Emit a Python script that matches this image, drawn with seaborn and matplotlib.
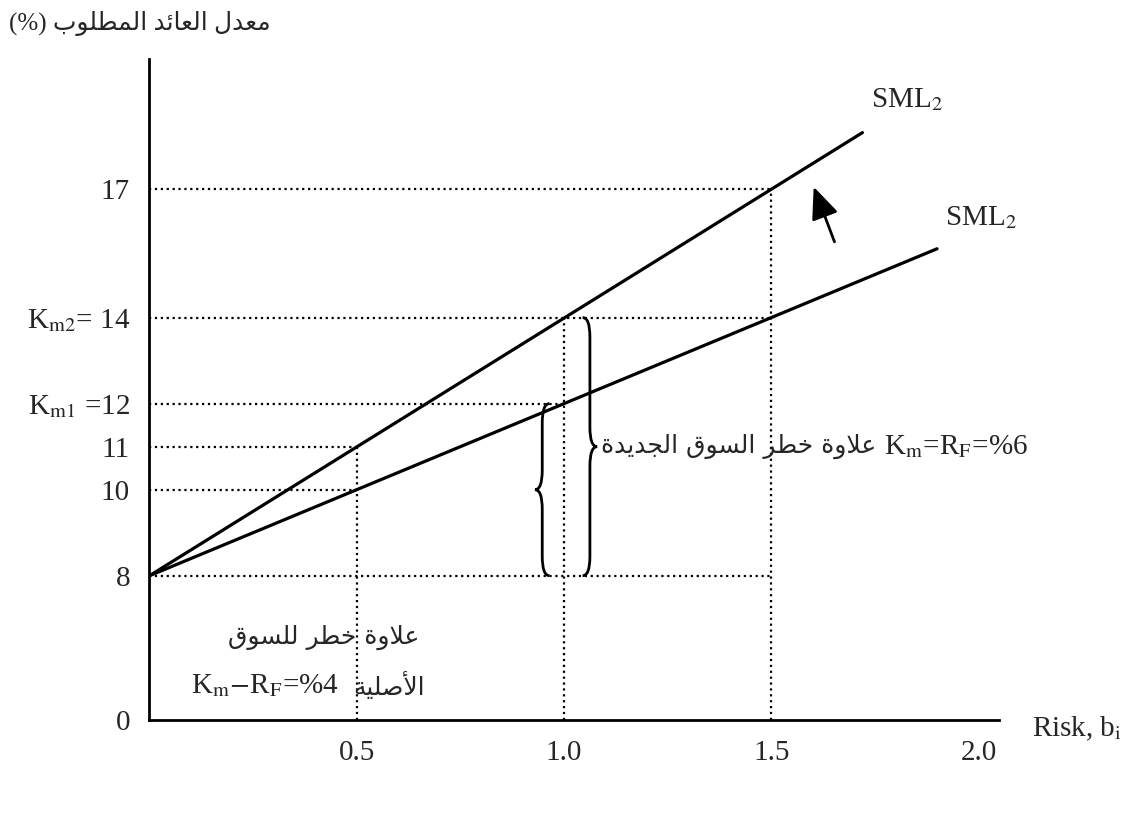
#!/usr/bin/env python3
import numpy as np
import pandas as pd
import matplotlib
matplotlib.use("Agg")
import matplotlib.pyplot as plt
from matplotlib.path import Path
from matplotlib.patches import PathPatch
import seaborn as sns

# DATA
rf = 8
sml_high_beta = [0, 1.72]
sml_high_ret = [8, 18.3]
sml_low_beta = [0, 1.9]
sml_low_ret = [8, 15.6]
sml_labels = ["SML$_2$", "SML$_2$"]

ytick_vals = [0, 8, 10, 11, 12, 14, 17]
ytick_labels = ["0", "8", "10", "11", r"K$_\mathrm{m1}$ =12", r"K$_\mathrm{m2}$= 14", "17"]
xtick_vals = [0.5, 1.0, 1.5, 2.0]
xtick_labels = ["0.5", "1.0", "1.5", "2.0"]

guide_h_y = [17, 14, 12, 11, 10, 8]
guide_h_xend = [1.5, 1.5, 1.0, 0.5, 0.5, 1.5]
guide_v_x = [0.5, 1.0, 1.5]
guide_v_ytop = [11, 14, 17]

ylabel_ar = "معدل العائد المطلوب"
new_prem_ar = "علاوة خطر السوق الجديدة"
new_prem_k = r"K$_\mathrm{m}$=R$_\mathrm{F}$=%6"
old_prem_ar1 = "علاوة خطر للسوق"
old_prem_ar2 = "الأصلية"
old_prem_k = r"K$_\mathrm{m}$$-$R$_\mathrm{F}$=%4"

# minimal arabic shaping (matplotlib has no bidi / joining)
FORMS = {
    'ا': ('\uFE8D', '\uFE8E', None, None),
    'أ': ('\uFE83', '\uFE84', None, None),
    'ب': ('\uFE8F', '\uFE90', '\uFE91', '\uFE92'),
    'ة': ('\uFE93', '\uFE94', None, None),
    'ج': ('\uFE9D', '\uFE9E', '\uFE9F', '\uFEA0'),
    'خ': ('\uFEA5', '\uFEA6', '\uFEA7', '\uFEA8'),
    'د': ('\uFEA9', '\uFEAA', None, None),
    'ر': ('\uFEAD', '\uFEAE', None, None),
    'س': ('\uFEB1', '\uFEB2', '\uFEB3', '\uFEB4'),
    'ص': ('\uFEB9', '\uFEBA', '\uFEBB', '\uFEBC'),
    'ط': ('\uFEC1', '\uFEC2', '\uFEC3', '\uFEC4'),
    'ع': ('\uFEC9', '\uFECA', '\uFECB', '\uFECC'),
    'ق': ('\uFED5', '\uFED6', '\uFED7', '\uFED8'),
    'ل': ('\uFEDD', '\uFEDE', '\uFEDF', '\uFEE0'),
    'م': ('\uFEE1', '\uFEE2', '\uFEE3', '\uFEE4'),
    'و': ('\uFEED', '\uFEEE', None, None),
    'ي': ('\uFEF1', '\uFEF2', '\uFEF3', '\uFEF4'),
    'ئ': ('\uFE89', '\uFE8A', '\uFE8B', '\uFE8C'),
}
LAM_ALEF = {'ا': ('\uFEFB', '\uFEFC'), 'أ': ('\uFEF7', '\uFEF8')}


def shape(s):
    toks = []
    i = 0
    while i < len(s):
        if s[i] == 'ل' and i + 1 < len(s) and s[i + 1] in LAM_ALEF:
            toks.append(("LA", s[i + 1])); i += 2
        else:
            toks.append(("C", s[i])); i += 1

    def letter(t): return t[0] == "LA" or t[1] in FORMS
    def joins_next(t): return t[0] == "C" and t[1] in FORMS and FORMS[t[1]][2] is not None

    out = []
    for k, t in enumerate(toks):
        prev = toks[k - 1] if k > 0 else None
        nxt = toks[k + 1] if k + 1 < len(toks) else None
        jp = prev is not None and joins_next(prev) and letter(t)
        if t[0] == "LA":
            out.append(LAM_ALEF[t[1]][1 if jp else 0]); continue
        c = t[1]
        if c not in FORMS:
            out.append(c); continue
        iso, fin, ini, med = FORMS[c]
        jn = ini is not None and nxt is not None and letter(nxt)
        out.append(med if jp and jn else fin if jp else ini if jn else iso)
    return "".join(reversed(out))


# y axis is squeezed below rf like in the textbook sketch
def fwd(y):
    y = np.asarray(y, float)
    return np.where(y < rf, y * 0.42, rf * 0.42 + (y - rf))


def inv(u):
    u = np.asarray(u, float)
    return np.where(u < rf * 0.42, u / 0.42, u - rf * 0.42 + rf)


def brace(ax, x, y0, y1, w, r=0.45):
    ym = (y0 + y1) / 2
    xm = x + w / 2
    verts = [(x, y1), (xm, y1), (xm, y1 - r), (xm, ym + r), (xm, ym), (x + w, ym),
             (xm, ym), (xm, ym - r), (xm, y0 + r), (xm, y0), (x, y0)]
    codes = [Path.MOVETO, Path.CURVE3, Path.CURVE3, Path.LINETO, Path.CURVE3, Path.CURVE3,
             Path.CURVE3, Path.CURVE3, Path.LINETO, Path.CURVE3, Path.CURVE3]
    ax.add_patch(PathPatch(Path(verts, codes), fill=False, lw=2.0, ec="black"))


# STYLE
sns.set_theme(style="white")
plt.rcParams["font.family"] = ["Liberation Serif", "DejaVu Sans"]
plt.rcParams["mathtext.fontset"] = "stix"
AR = ["DejaVu Sans"]

df = pd.DataFrame({
    "beta": sml_high_beta + sml_low_beta,
    "ret": sml_high_ret + sml_low_ret,
    "line": ["high"] * 2 + ["low"] * 2,
})

fig = plt.figure(figsize=(11.24, 8.26), dpi=100)
ax = fig.add_axes([0.133, 0.128, 0.756, 0.80])
ax.set_yscale("function", functions=(fwd, inv))

sns.lineplot(data=df, x="beta", y="ret", units="line", estimator=None,
             color="black", lw=2.3, ax=ax)

ax.hlines(guide_h_y, 0, guide_h_xend, colors="black", linestyles=":", lw=1.6)
ax.vlines(guide_v_x, 0, guide_v_ytop, colors="black", linestyles=":", lw=1.6)

ax.set_xlim(0, 2.05)
ax.set_ylim(0, 20)
ax.set_xticks(xtick_vals)
ax.set_xticklabels(xtick_labels, fontsize=21)
ax.set_yticks(ytick_vals)
ax.set_yticklabels(ytick_labels, fontsize=21)
ax.minorticks_off()
ax.tick_params(axis="both", length=0)
ax.tick_params(axis="y", pad=14)
ax.tick_params(axis="x", pad=14)
ax.set_xlabel("")
ax.set_ylabel("")
sns.despine(ax=ax)
for s in ["left", "bottom"]:
    ax.spines[s].set_color("black")
    ax.spines[s].set_linewidth(2)

# line labels
ax.text(sml_high_beta[1] + 0.02, sml_high_ret[1] + 0.45, sml_labels[0], fontsize=21, va="bottom")
ax.text(sml_low_beta[1] + 0.02, sml_low_ret[1] + 0.4, sml_labels[1], fontsize=21, va="bottom")

# shift arrow
ax.annotate("", xy=(1.6, 17.1), xytext=(1.655, 15.7),
            arrowprops=dict(arrowstyle="-|>,head_length=0.7,head_width=0.3",
                            color="black", lw=2, mutation_scale=28))

# braces
brace(ax, 0.965, 8, 12, -0.035)
brace(ax, 1.045, 8, 14, 0.035)

t_new = ax.text(1.09, 11.0, shape(new_prem_ar), family=AR, fontsize=18, va="center", ha="left")
ax.annotate(new_prem_k, xy=(1, 0.5), xycoords=t_new, xytext=(5, 0),
            textcoords="offset points", fontsize=21, va="center", ha="left")

ax.text(0.42, 4.6, shape(old_prem_ar1), family=AR, fontsize=18, va="center", ha="center")
t_old = ax.text(0.1, 1.9, old_prem_k, fontsize=21, va="center", ha="left")
ax.annotate(shape(old_prem_ar2), xy=(1, 0.5), xycoords=t_old, xytext=(10, 0),
            textcoords="offset points", family=AR, fontsize=18, va="center", ha="left")

# axis titles
fig.text(0.008, 0.972, "(%) " + shape(ylabel_ar), family=["Liberation Serif", "DejaVu Sans"],
         fontsize=18, va="center", ha="left")
fig.text(0.918, 0.118, "Risk, b$_\\mathrm{i}$", fontsize=21, va="center", ha="left")

fig.savefig("out.png", dpi=100)
